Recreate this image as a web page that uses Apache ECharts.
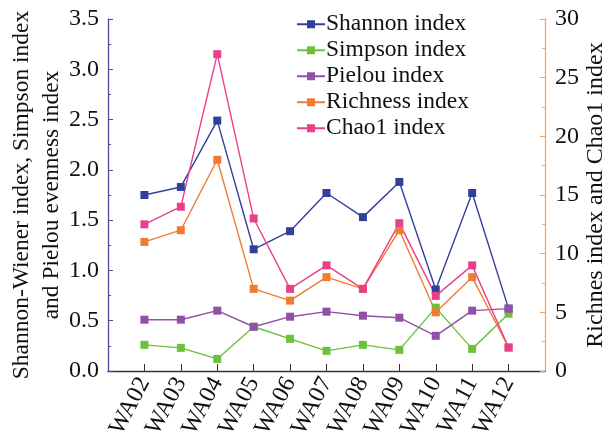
<!DOCTYPE html>
<html>
<head>
<meta charset="utf-8">
<style>
html,body{margin:0;padding:0;background:#fff;}
#chart{width:608px;height:442px;}
</style>
<script src="https://cdn.jsdelivr.net/npm/echarts@6/dist/echarts.min.js"></script>
</head>
<body>
<div id="chart"></div>
<script>
var categories = ['WA02','WA03','WA04','WA05','WA06','WA07','WA08','WA09','WA10','WA11','WA12'];
var shannon  = [1.75, 1.83, 2.49, 1.21, 1.39, 1.77, 1.53, 1.88, 0.81, 1.77, 0.62];
var simpson  = [0.26, 0.23, 0.12, 0.44, 0.32, 0.20, 0.26, 0.21, 0.63, 0.22, 0.57];
var pielou   = [0.51, 0.51, 0.60, 0.44, 0.54, 0.59, 0.55, 0.53, 0.35, 0.60, 0.62];
var richness = [11, 12, 18, 7, 6, 8, 7, 12, 5, 8, 2];
var chao1    = [12.5, 14, 27, 13, 7, 9, 7, 12.6, 6.4, 9, 2];
var leftTicks  = {min: 0, max: 3.5, interval: 0.5};
var rightTicks = {min: 0, max: 30, interval: 5};

var FONT = "'Liberation Serif', 'Times New Roman', serif";
function pad(arr){ return [null].concat(arr).concat([null]); }
var xCats = [''].concat(categories).concat(['']);

function mk(name, data, color, yIdx){
  return {
    name: name, type: 'line', yAxisIndex: yIdx, data: pad(data),
    symbol: 'rect', symbolSize: 8, connectNulls: false,
    lineStyle: {color: color, width: 1.4},
    itemStyle: {color: color},
    emphasis: {disabled: true}, animation: false
  };
}

var chart = echarts.init(document.getElementById('chart'), null, {renderer: 'canvas'});
chart.setOption({
  animation: false,
  backgroundColor: '#fff',
  grid: {left: 108, right: 63, top: 19, bottom: 71, containLabel: false, outerBoundsMode: 'none'},
  legend: {
    left: 291, top: 7, orient: 'vertical',
    itemWidth: 28, itemHeight: 10, itemGap: 1.5,
    textStyle: {fontFamily: FONT, fontSize: 23.5, color: '#111', padding: [0,0,0,-4], lineHeight: 24.5},
    data: ['Shannon index','Simpson index','Pielou index','Richness index','Chao1 index']
  },
  xAxis: {
    type: 'category', data: xCats, boundaryGap: false,
    axisLine: {lineStyle: {color: '#333', width: 1.3}},
    axisTick: {inside: true, length: 7, lineStyle: {color: '#333'},
      interval: function(i, v){ return v !== ''; }},
    axisLabel: {rotate: 62, interval: 0, fontFamily: FONT, fontSize: 24, color: '#111', margin: 8},
    splitLine: {show: false}
  },
  yAxis: [{
    type: 'value', position: 'left', min: leftTicks.min, max: leftTicks.max, interval: leftTicks.interval,
    name: 'Shannon-Wiener index, Simpson index\nand Pielou evenness index',
    nameLocation: 'middle', nameGap: 41, nameRotate: 90, nameMoveOverlap: false,
    nameTextStyle: {fontFamily: FONT, fontSize: 23.5, color: '#111', lineHeight: 30},
    axisLine: {show: true, lineStyle: {color: '#4b4aa3', width: 1.3}},
    axisTick: {show: true, inside: true, length: 5, lineStyle: {color: '#4b4aa3'}},
    minorTick: {show: true, splitNumber: 2, length: 3, lineStyle: {color: '#4b4aa3'}},
    axisLabel: {fontFamily: FONT, fontSize: 24, color: '#111', margin: 9,
      formatter: function(v){ return v.toFixed(1); }},
    splitLine: {show: false}
  }, {
    type: 'value', position: 'right', min: rightTicks.min, max: rightTicks.max, interval: rightTicks.interval,
    name: 'Richnes index and Chao1 index',
    nameLocation: 'middle', nameGap: 39, nameRotate: 90, nameMoveOverlap: false,
    nameTextStyle: {fontFamily: FONT, fontSize: 24, color: '#111'},
    axisLine: {show: true, lineStyle: {color: '#f2a36e', width: 1.3}},
    axisTick: {show: true, inside: true, length: 5, lineStyle: {color: '#f2a36e'}},
    minorTick: {show: true, splitNumber: 2, length: 3, lineStyle: {color: '#f2a36e'}},
    axisLabel: {fontFamily: FONT, fontSize: 24, color: '#111', margin: 10},
    splitLine: {show: false}
  }],
  series: [
    mk('Shannon index', shannon, '#33409b', 0),
    mk('Simpson index', simpson, '#6cc03c', 0),
    mk('Pielou index', pielou, '#9150a8', 0),
    mk('Richness index', richness, '#ef7c30', 1),
    mk('Chao1 index', chao1, '#e8408a', 1)
  ]
});
</script>
</body>
</html>
